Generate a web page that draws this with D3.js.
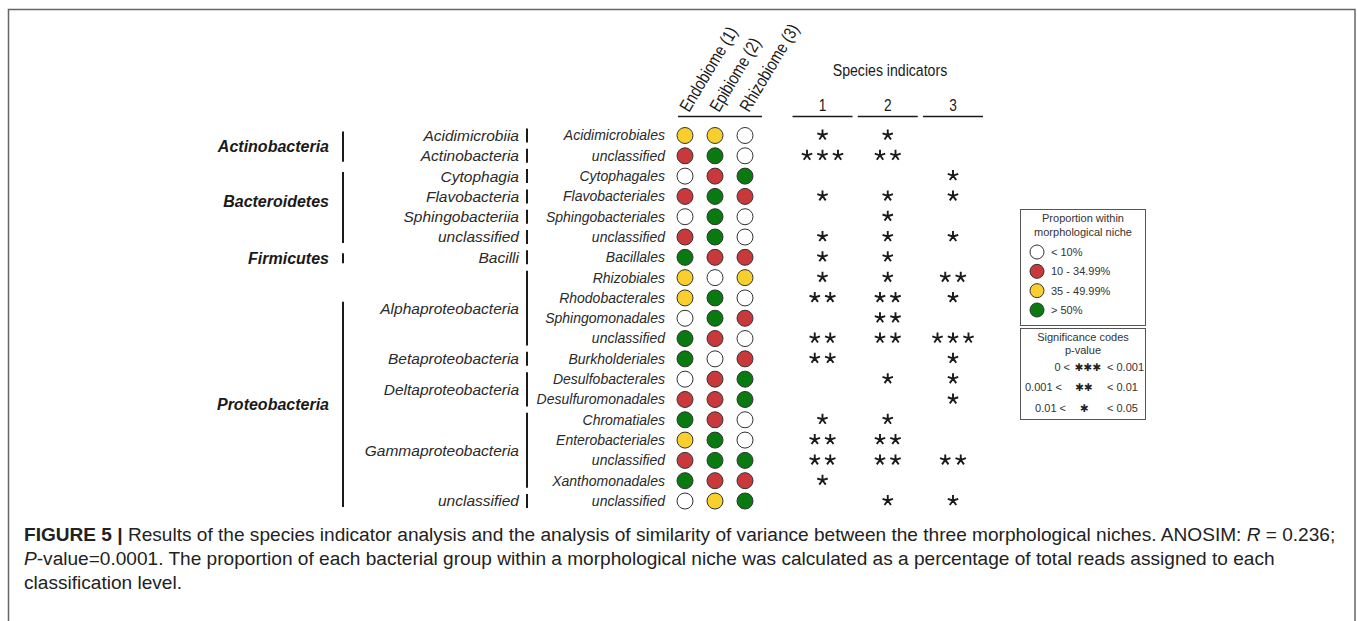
<!DOCTYPE html>
<html>
<head>
<meta charset="utf-8">
<script src="https://cdnjs.cloudflare.com/ajax/libs/d3/7.8.5/d3.min.js"></script>
<style>
body { margin: 0; background: #fff; }
svg { display: block; font-family: "Liberation Sans", Arial, sans-serif; }
</style>
</head>
<body>
<div class="graphic"></div>
<script>
// rows, top to bottom
var orders = ['Acidimicrobiales', 'unclassified', 'Cytophagales', 'Flavobacteriales', 'Sphingobacteriales',
	'unclassified', 'Bacillales', 'Rhizobiales', 'Rhodobacterales', 'Sphingomonadales', 'unclassified',
	'Burkholderiales', 'Desulfobacterales', 'Desulfuromonadales', 'Chromatiales', 'Enterobacteriales',
	'unclassified', 'Xanthomonadales', 'unclassified'];

// [name, first row, last row]
var classes = [['Acidimicrobiia', 0, 0], ['Actinobacteria', 1, 1], ['Cytophagia', 2, 2], ['Flavobacteria', 3, 3],
	['Sphingobacteriia', 4, 4], ['unclassified', 5, 5], ['Bacilli', 6, 6], ['Alphaproteobacteria', 7, 10],
	['Betaproteobacteria', 11, 11], ['Deltaproteobacteria', 12, 13], ['Gammaproteobacteria', 14, 17],
	['unclassified', 18, 18]];

var phyla = [['Actinobacteria', 0, 1], ['Bacteroidetes', 2, 5], ['Firmicutes', 6, 6], ['Proteobacteria', 7, 18]];

var niches = ['Endobiome (1)', 'Epibiome (2)', 'Rhizobiome (3)'];

// proportion class per niche: w <10%, r 10-34.99%, y 35-49.99%, g >50%
var endobiome  = ['y','r','w','r','w','r','g','y','y','w','g','g','w','r','g','y','r','g','w'];
var epibiome   = ['y','g','r','g','g','g','r','w','g','g','r','w','r','r','r','g','g','r','y'];
var rhizobiome = ['w','w','g','r','w','w','r','y','w','r','w','r','g','g','w','w','g','r','g'];

// number of significance stars per species indicator column
var indicators = ['1', '2', '3'];
var indicator1 = [1,3,0,1,0,1,1,1,2,0,2,2,0,0,1,2,2,1,0];
var indicator2 = [1,2,0,1,1,1,1,1,2,2,2,0,1,0,1,2,2,0,1];
var indicator3 = [0,0,1,1,0,1,0,2,1,0,3,1,1,1,0,0,2,0,1];

var levels = ['w', 'r', 'y', 'g'];
var levelLabels = ['< 10%', '10 - 34.99%', '35 - 49.99%', '> 50%'];
var sigLeft = ['0 <', '0.001 <', '0.01 <'];
var sigStars = ['\u2731\u2731\u2731', '\u2731\u2731', '\u2731'];
var sigRight = ['< 0.001', '< 0.01', '< 0.05'];

var width = 1357;
var height = 621;
var ink = '#1a1a1a';
var narrow = 0.83;   // horizontal squeeze for the condensed header type

var svg = d3.select('.graphic').append('svg')
	.attr('width', width)
	.attr('height', height)
	.attr('viewBox', `0 0 ${width} ${height}`);

// frame
svg.append('path')
	.attr('d', `M8.5,${height} V9.5 H1355 V${height}`)
	.attr('fill', 'none')
	.attr('stroke', '#666')
	.attr('stroke-width', 1.5);

var y = d3.scaleLinear().domain([0, orders.length - 1]).range([135.5, 501]);
var xNiche = d3.scalePoint().domain(niches).range([685, 745]);
var xInd = d3.scalePoint().domain(indicators).range([822.5, 953]);
var color = d3.scaleOrdinal().domain(levels).range(['#ffffff', '#c9393b', '#f8cf2c', '#087a10']);

// five-armed asterisk, like the typeset '*'
var asterisk = {
	draw: function(context, size) {
		var r = Math.sqrt(size) / 2;
		for (var k = 0; k < 5; k++) {
			var a = -Math.PI / 2 + k * 2 * Math.PI / 5;
			context.moveTo(0, 0);
			context.lineTo(r * Math.cos(a), r * Math.sin(a));
		}
	}
};

function makeTaxonomy() {
	// phylum
	var ph = svg.append('g').selectAll('g').data(phyla).enter().append('g');
	ph.each(function(d) {
		var g = d3.select(this);
		var top = y(d[1]) - 4 + (d[0] === 'Proteobacteria' ? 28 : 0);
		var bot = y(d[2]) + 6;
		g.append('line')
			.attr('x1', 343).attr('x2', 343)
			.attr('y1', top).attr('y2', bot)
			.attr('stroke', ink).attr('stroke-width', 2);
		g.append('text')
			.attr('x', 329)
			.attr('y', (top + bot) / 2 - (d[2] - d[1] > 1 && d[0] !== 'Proteobacteria' ? 6 : 0))
			.attr('dy', '0.35em')
			.attr('text-anchor', 'end')
			.attr('font-size', 16)
			.attr('font-weight', 'bold')
			.attr('font-style', 'italic')
			.attr('fill', ink)
			.text(d[0]);
	});

	// class
	var cl = svg.append('g').selectAll('g').data(classes).enter().append('g');
	cl.each(function(d) {
		var g = d3.select(this);
		var top = y(d[1]) - 7;
		var bot = y(d[2]) + 7;
		g.append('line')
			.attr('x1', 527).attr('x2', 527)
			.attr('y1', top).attr('y2', bot)
			.attr('stroke', ink).attr('stroke-width', 2);
		g.append('text')
			.attr('x', 519)
			.attr('y', (y(d[1]) + y(d[2])) / 2)
			.attr('dy', '0.35em')
			.attr('text-anchor', 'end')
			.attr('font-size', 15.5)
			.attr('font-style', 'italic')
			.attr('fill', '#2a2a2a')
			.text(d[0]);
	});

	// order
	svg.append('g').selectAll('text').data(orders).enter().append('text')
		.attr('x', 665)
		.attr('y', function(d, i) { return y(i); })
		.attr('dy', '0.35em')
		.attr('text-anchor', 'end')
		.attr('font-size', 14)
		.attr('font-style', 'italic')
		.attr('fill', '#2a2a2a')
		.text(function(d) { return d; });
}

function makeNiches() {
	var cols = [endobiome, epibiome, rhizobiome];

	svg.append('g').selectAll('text').data(niches).enter().append('text')
		.attr('transform', function(d) {
			return `translate(${xNiche(d) + 4},113) rotate(-59) scale(${narrow},1)`;
		})
		.attr('font-size', 17.5)
		.attr('fill', ink)
		.text(function(d) { return d; });

	svg.append('line')
		.attr('x1', xNiche(niches[0]) - 7).attr('x2', xNiche(niches[2]) + 17)
		.attr('y1', 116.5).attr('y2', 116.5)
		.attr('stroke', ink).attr('stroke-width', 1.5);

	niches.forEach(function(n, j) {
		svg.append('g').selectAll('circle').data(cols[j]).enter().append('circle')
			.attr('cx', xNiche(n))
			.attr('cy', function(d, i) { return y(i); })
			.attr('r', 8)
			.attr('fill', function(d) { return color(d); })
			.attr('stroke', '#333')
			.attr('stroke-width', 1);
	});
}

function makeIndicators() {
	var cols = [indicator1, indicator2, indicator3];

	svg.append('text')
		.attr('transform', `translate(890,70) scale(${narrow},1)`)
		.attr('dy', '0.35em')
		.attr('text-anchor', 'middle')
		.attr('font-size', 17)
		.attr('fill', ink)
		.text('Species indicators');

	var head = svg.append('g').selectAll('g').data(indicators).enter().append('g');
	head.append('text')
		.attr('transform', function(d) { return `translate(${xInd(d)},105) scale(${narrow},1)`; })
		.attr('dy', '0.35em')
		.attr('text-anchor', 'middle')
		.attr('font-size', 16.5)
		.attr('fill', ink)
		.text(function(d) { return d; });
	head.append('line')
		.attr('x1', function(d) { return xInd(d) - 30; })
		.attr('x2', function(d) { return xInd(d) + 30; })
		.attr('y1', 116.5).attr('y2', 116.5)
		.attr('stroke', ink).attr('stroke-width', 1.5);

	// one asterisk per star, spaced around the column centre
	var step = 15.5;
	var star = d3.symbol().type(asterisk).size(121);
	indicators.forEach(function(c, j) {
		var marks = [];
		cols[j].forEach(function(n, i) {
			d3.range(n).forEach(function(k) {
				marks.push({row: i, x: xInd(c) + (k - (n - 1) / 2) * step});
			});
		});
		svg.append('g').selectAll('path').data(marks).enter().append('path')
			.attr('transform', function(d) { return `translate(${d.x},${y(d.row) - 0.5})`; })
			.attr('d', star)
			.attr('fill', 'none')
			.attr('stroke', ink)
			.attr('stroke-width', 1.9);
	});
}

function makeLegend() {
	var g = svg.append('g').attr('font-size', 11).attr('fill', '#333');

	g.append('rect')
		.attr('x', 1020.5).attr('y', 209.5).attr('width', 125).attr('height', 116)
		.attr('fill', 'none').attr('stroke', '#555').attr('stroke-width', 1);
	g.append('text').attr('x', 1083).attr('y', 218).attr('dy', '0.35em')
		.attr('text-anchor', 'middle').text('Proportion within');
	g.append('text').attr('x', 1083).attr('y', 232).attr('dy', '0.35em')
		.attr('text-anchor', 'middle').text('morphological niche');

	var ly = d3.scalePoint().domain(levels).range([252, 310]);
	var item = g.selectAll('g.item').data(levels).enter().append('g');
	item.append('circle')
		.attr('cx', 1037)
		.attr('cy', function(d) { return ly(d); })
		.attr('r', 7)
		.attr('fill', function(d) { return color(d); })
		.attr('stroke', '#333');
	item.append('text')
		.attr('x', 1051)
		.attr('y', function(d) { return ly(d); })
		.attr('dy', '0.35em')
		.text(function(d, i) { return levelLabels[i]; });

	g.append('rect')
		.attr('x', 1020.5).attr('y', 328.5).attr('width', 125).attr('height', 91)
		.attr('fill', 'none').attr('stroke', '#555').attr('stroke-width', 1);
	g.append('text').attr('x', 1083).attr('y', 337).attr('dy', '0.35em')
		.attr('text-anchor', 'middle').text('Significance codes');
	g.append('text').attr('x', 1083).attr('y', 350).attr('dy', '0.35em')
		.attr('text-anchor', 'middle').text('p-value');

	var sy = d3.scalePoint().domain(d3.range(sigStars.length)).range([367, 408]);
	var leftEnd = [1070, 1062, 1066];
	var starMid = [1088, 1084, 1084.5];
	sigStars.forEach(function(s, i) {
		g.append('text').attr('x', leftEnd[i]).attr('y', sy(i)).attr('dy', '0.35em')
			.attr('text-anchor', 'end').text(sigLeft[i]);
		g.append('text').attr('x', starMid[i]).attr('y', sy(i)).attr('dy', '0.35em')
			.attr('text-anchor', 'middle')
			.attr('font-family', '"DejaVu Sans", sans-serif')
			.attr('font-size', 10.5)
			.attr('fill', '#222')
			.text(s);
		g.append('text').attr('x', 1107).attr('y', sy(i)).attr('dy', '0.35em')
			.text(sigRight[i]);
	});
}

function makeCaption() {
	var cap = svg.append('g').attr('fill', '#222').attr('font-size', 16);
	var l1 = cap.append('text').attr('x', 24).attr('y', 534).attr('dy', '0.35em');
	l1.append('tspan').attr('font-weight', 'bold').text('FIGURE 5 |');
	l1.append('tspan').text(' Results of the species indicator analysis and the analysis of similarity of variance between the three morphological niches. ANOSIM: ');
	l1.append('tspan').attr('font-style', 'italic').text('R');
	l1.append('tspan').text(' = 0.236;');

	var l2 = cap.append('text').attr('x', 24).attr('y', 558).attr('dy', '0.35em');
	l2.append('tspan').attr('font-style', 'italic').text('P');
	l2.append('tspan').text('-value=0.0001. The proportion of each bacterial group within a morphological niche was calculated as a percentage of total reads assigned to each');

	cap.append('text').attr('x', 24).attr('y', 582).attr('dy', '0.35em')
		.text('classification level.');

	// fit the first line to the width it takes in the figure
	var w = l1.node().getComputedTextLength();
	cap.attr('font-size', 16 * 1312 / w);
}

makeTaxonomy();
makeNiches();
makeIndicators();
makeLegend();
makeCaption();
</script>
</body>
</html>
